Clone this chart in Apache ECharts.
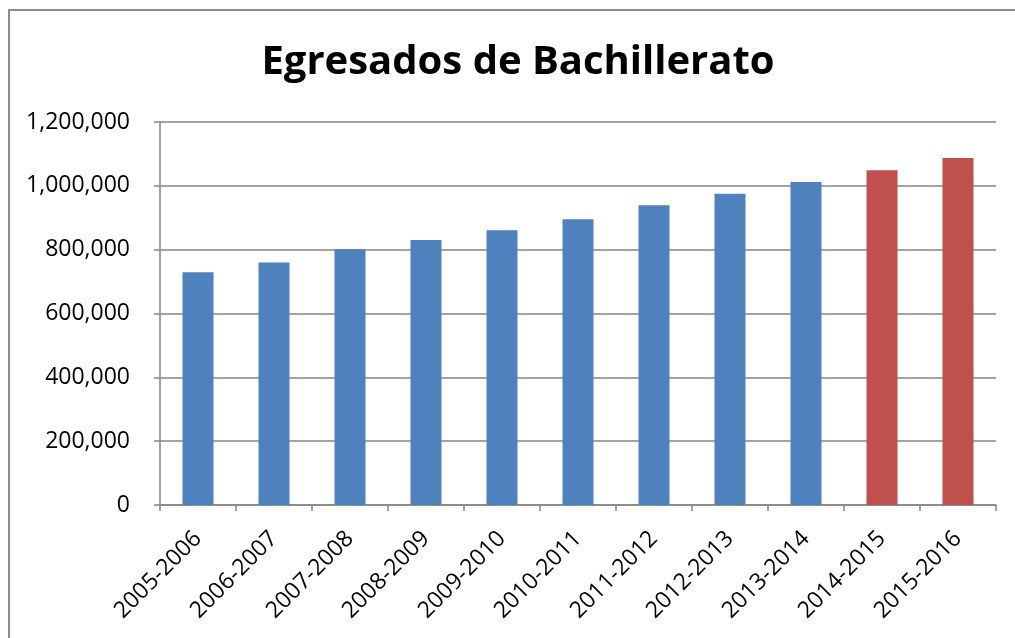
<!DOCTYPE html>
<html>
<head>
<meta charset="utf-8">
<script src="https://cdn.jsdelivr.net/npm/echarts@6/dist/echarts.min.js"></script>
<style>
html,body{margin:0;padding:0;background:#fff;}
#c{width:1015px;height:638px;}
</style>
</head>
<body>
<div id="c"></div>
<script>
const title = 'Egresados de Bachillerato';
const categories = ['2005-2006','2006-2007','2007-2008','2008-2009','2009-2010','2010-2011','2011-2012','2012-2013','2013-2014','2014-2015','2015-2016'];
const values = [729000, 760000, 801000, 830000, 861000, 895000, 939000, 975000, 1012000, 1049000, 1087000];
const barColors = ['#4F81BD','#4F81BD','#4F81BD','#4F81BD','#4F81BD','#4F81BD','#4F81BD','#4F81BD','#4F81BD','#C0504D','#C0504D'];
const yTicks = [0, 200000, 400000, 600000, 800000, 1000000, 1200000];

const font = '"Open Sans", "Liberation Sans", sans-serif';
const chart = echarts.init(document.getElementById('c'), null, {renderer: 'canvas'});
chart.setOption({
  animation: false,
  backgroundColor: '#fff',
  title: {
    text: title,
    left: 513, top: 38, textAlign: 'center',
    textStyle: {fontFamily: font, fontWeight: 'bold', fontSize: 40, color: '#000'}
  },
  graphic: [{
    type: 'rect', shape: {x: 9, y: 10, width: 1100, height: 700},
    style: {fill: 'none', stroke: '#8c8c8c', lineWidth: 2}, silent: true
  }],
  grid: {left: 160, right: 19, top: 122, bottom: 133},
  xAxis: {
    type: 'category', data: categories,
    axisLine: {lineStyle: {color: '#868686', width: 1.5}},
    axisTick: {show: true, alignWithLabel: false, length: 6, lineStyle: {color: '#868686', width: 1.5}},
    axisLabel: {rotate: 45, fontFamily: font, fontSize: 23, color: '#000', margin: 30, interval: 0}
  },
  yAxis: {
    type: 'value', min: yTicks[0], max: yTicks[yTicks.length-1], interval: 200000,
    axisLine: {show: true, lineStyle: {color: '#868686', width: 1.5}},
    axisTick: {show: true, inside: false, length: 6, lineStyle: {color: '#868686', width: 1.5}},
    splitLine: {lineStyle: {color: '#868686', width: 1.5}},
    axisLabel: {fontFamily: font, fontSize: 23, color: '#000', margin: 30,
      formatter: v => v.toLocaleString('en-US')}
  },
  series: [{
    type: 'bar', barWidth: 31,
    data: values.map((v, i) => ({value: v, itemStyle: {color: barColors[i]}}))
  }]
});
</script>
</body>
</html>
